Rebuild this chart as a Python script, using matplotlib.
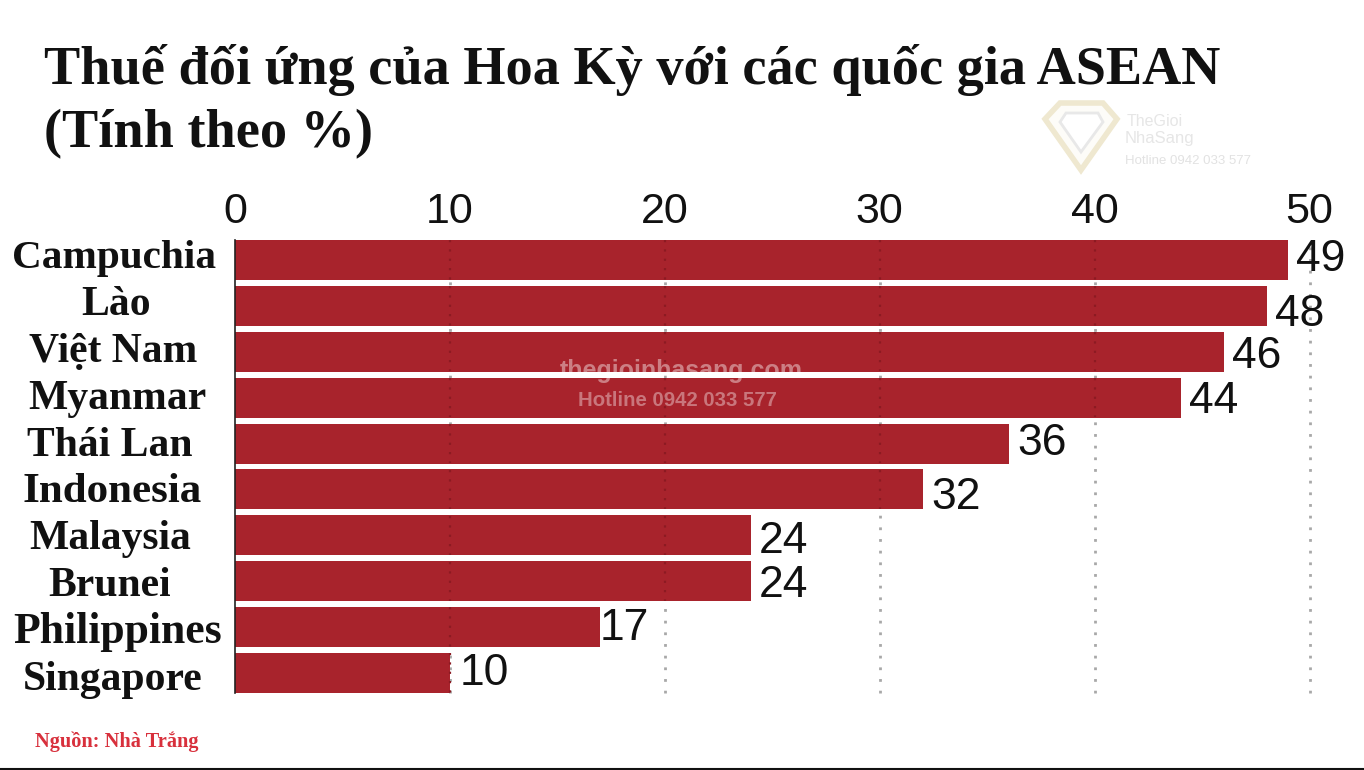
'''
horizontal bars: US reciprocal tariffs on ASEAN countries
'''

import matplotlib
matplotlib.use('Agg')
import matplotlib.pyplot as plt
from matplotlib.patches import Polygon
from matplotlib.lines import Line2D

countries = ['Campuchia', 'Lào', 'Việt Nam', 'Myanmar', 'Thái Lan',
             'Indonesia', 'Malaysia', 'Brunei', 'Philippines', 'Singapore']
rates = [49, 48, 46, 44, 36, 32, 24, 24, 17, 10]
x_ticks = [0, 10, 20, 30, 40, 50]

title = 'Thuế đối ứng của Hoa Kỳ với các quốc gia ASEAN\n(Tính theo %)'
source = 'Nguồn: Nhà Trắng'

W, H = 1364, 770
RED = '#a8232c'
SERIF = 'Liberation Serif'
SANS = 'Liberation Sans'

def fx(px):
    return px / W

def fy(px):
    return 1 - px / H

fig = plt.figure(figsize=(W / 100, H / 100), dpi=100, facecolor='white')
ax = fig.add_axes([fx(235), fy(693), fx(1309.5) - fx(235), (693 - 240) / H])

pos = list(range(len(countries)))
ax.barh(pos, rates, height=0.87, color=RED, zorder=2)
ax.set_ylim(len(countries) - 0.565, -0.435)
ax.set_xlim(0, 50)

# dotted grid: grey on white, dark red and faint where it crosses a bar
dots = (0, (1, 3.2))
for t in x_ticks[1:]:
    ax.axvline(t, color='#a8a8a8', ls=dots, lw=2, zorder=1, clip_on=False)
    ys = [i for i, v in enumerate(rates) if v >= t]
    ax.vlines([t] * len(ys), [i - .43 for i in ys], [i + .43 for i in ys],
              color='#8c1a22', ls=dots, lw=1.6, zorder=3)

ax.xaxis.tick_top()
ax.set_xticks(x_ticks)
ax.set_xticklabels([str(t) for t in x_ticks], family=SANS, fontsize=31,
                   color='#111111')
ax.tick_params(axis='x', length=0, pad=5.5)
ax.set_yticks([])

for s in ['top', 'right', 'bottom']:
    ax.spines[s].set_visible(False)
ax.spines['left'].set_color('#222222')
ax.spines['left'].set_linewidth(1.2)
ax.spines['left'].set_zorder(4)

# category names are centred in a column left of the axis, not right aligned
label_x = [114, 116, 113, 117, 110, 112, 110, 110, 118, 113]
label_size = [29.7, 30, 30, 30, 30, 31, 30, 30, 31.5, 30]
for i, name in enumerate(countries):
    fig.text(fx(label_x[i]), fy(268 + i * 46.9), name, family=SERIF,
             weight='bold', fontsize=label_size[i], color='#111111',
             ha='center', va='baseline')

# value labels were placed by hand in the original, hence the nudges (px)
nudge_x = [8, 8, 8, 8, 9, 9, 8, 8, -1, 10]
nudge_y = [0, 9, 5, 4, 0, 8, 6, 4, 1, 0]
for i, v in enumerate(rates):
    ax.annotate(str(v), (v, i), xytext=(nudge_x[i] * .72, -nudge_y[i] * .72),
                textcoords='offset points', family=SANS, fontsize=32,
                color='#111111', va='center', zorder=5)

fig.text(fx(44), fy(84), title.split('\n')[0], family=SERIF, weight='bold',
         fontsize=39.1, color='#111111', va='baseline')
fig.text(fx(44), fy(147), title.split('\n')[1], family=SERIF, weight='bold',
         fontsize=39.1, color='#111111', va='baseline')
fig.text(fx(35), fy(747), source, family=SERIF, weight='bold', fontsize=14.7,
         color='#d8303c', va='baseline')

# watermark
fig.text(fx(681), fy(371), 'thegioinhasang.com', family=SANS, weight='bold',
         fontsize=18, color='#ffffff', alpha=.42, ha='center', va='center',
         zorder=6)
fig.text(fx(677), fy(401), 'Hotline 0942 033 577', family=SANS, weight='bold',
         fontsize=14.7, color='#ffffff', alpha=.38, ha='center', va='center',
         zorder=6)
logo = [(1060, 103), (1103, 103), (1117, 119), (1081, 170), (1045, 119)]
fig.add_artist(Polygon([(fx(a), fy(b)) for a, b in logo], closed=True,
                       transform=fig.transFigure, facecolor='#fdfcf8',
                       edgecolor='#efe8d0', lw=4))
inner = [(1066, 113), (1098, 113), (1103, 122), (1081, 152), (1060, 122)]
fig.add_artist(Polygon([(fx(a), fy(b)) for a, b in inner], closed=True,
                       transform=fig.transFigure, facecolor='white',
                       edgecolor='#e8e8e8', lw=2))
fig.text(fx(1127), fy(121), 'TheGioi', family=SANS, fontsize=11.5,
         color='#e6e6e6', va='center')
fig.text(fx(1125), fy(139), 'NhaSang', family=SANS, fontsize=12,
         color='#e6e6e6', va='center')
fig.text(fx(1125), fy(161), 'Hotline 0942 033 577', family=SANS, fontsize=9.5,
         color='#e2e2e2', va='center')

fig.add_artist(Line2D([0, 1], [fy(769.3), fy(769.3)], color='#111111', lw=1.5,
                      transform=fig.transFigure))

fig.savefig('out.png', dpi=100)
